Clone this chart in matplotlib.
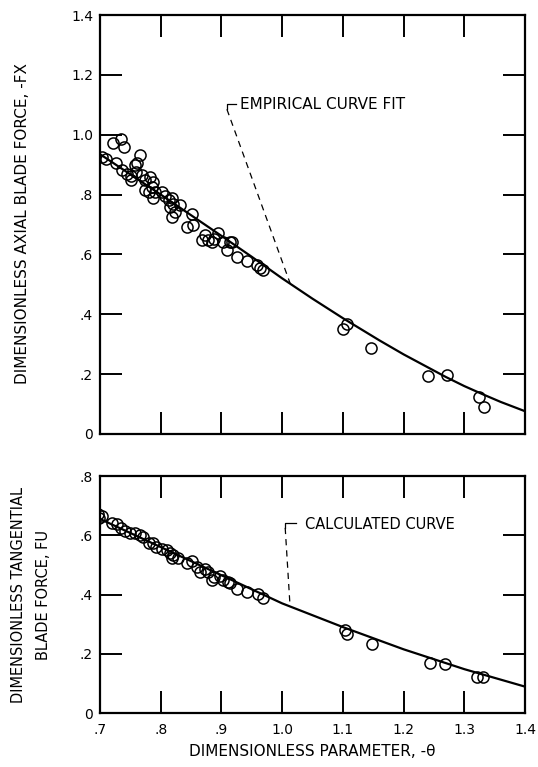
import numpy as np
import matplotlib.pyplot as plt

# Axial blade force (top panel)
fx_theta = [0.704, 0.710, 0.721, 0.735, 0.740, 0.727, 0.736, 0.744, 0.751, 0.751,
            0.758, 0.761, 0.766, 0.760, 0.769, 0.774, 0.782, 0.774, 0.785, 0.788,
            0.780, 0.791, 0.788, 0.802, 0.807, 0.813, 0.818, 0.821, 0.815, 0.832,
            0.818, 0.824, 0.851, 0.843, 0.853, 0.873, 0.868, 0.878, 0.887, 0.895,
            0.903, 0.914, 0.885, 0.909, 0.917, 0.925, 0.942, 0.958, 0.964, 0.968,
            1.101, 1.106, 1.146, 1.241, 1.271, 1.324, 1.333]
fx_vals = [0.926, 0.920, 0.974, 0.987, 0.959, 0.906, 0.881, 0.870, 0.862, 0.848,
           0.898, 0.904, 0.931, 0.876, 0.865, 0.848, 0.859, 0.815, 0.826, 0.842,
           0.809, 0.809, 0.787, 0.809, 0.795, 0.781, 0.787, 0.770, 0.759, 0.765,
           0.726, 0.742, 0.735, 0.692, 0.700, 0.664, 0.648, 0.648, 0.653, 0.670,
           0.642, 0.642, 0.640, 0.614, 0.642, 0.590, 0.579, 0.564, 0.556, 0.548,
           0.351, 0.367, 0.288, 0.194, 0.197, 0.125, 0.089]
fx_curve_x = [0.70, 0.80, 0.90, 0.95, 1.00, 1.05, 1.10, 1.16, 1.20, 1.27, 1.30, 1.33, 1.36, 1.40]
fx_curve_y = [0.935, 0.800, 0.662, 0.592, 0.520, 0.452, 0.387, 0.313, 0.266, 0.190,
              0.160, 0.133, 0.107, 0.076]

# Tangential blade force (bottom panel)
fu_theta = [0.696, 0.699, 0.703, 0.719, 0.728, 0.735, 0.741, 0.749, 0.758, 0.766,
            0.770, 0.780, 0.788, 0.793, 0.802, 0.810, 0.815, 0.821, 0.818, 0.829,
            0.843, 0.851, 0.859, 0.865, 0.873, 0.878, 0.887, 0.884, 0.897, 0.903,
            0.911, 0.914, 0.925, 0.942, 0.961, 0.968,
            1.104, 1.106, 1.148, 1.243, 1.268, 1.321, 1.330]
fu_vals = [0.672, 0.657, 0.665, 0.642, 0.638, 0.623, 0.615, 0.609, 0.609, 0.601,
           0.593, 0.573, 0.573, 0.561, 0.553, 0.550, 0.539, 0.533, 0.522, 0.522,
           0.505, 0.514, 0.494, 0.477, 0.485, 0.477, 0.460, 0.449, 0.462, 0.449,
           0.443, 0.438, 0.418, 0.410, 0.401, 0.389,
           0.280, 0.267, 0.233, 0.170, 0.164, 0.123, 0.120]
fu_curve_x = [0.70, 0.80, 0.90, 1.00, 1.10, 1.20, 1.30, 1.40]
fu_curve_y = [0.655, 0.560, 0.465, 0.370, 0.290, 0.215, 0.148, 0.089]

x_ticks = [0.7, 0.8, 0.9, 1.0, 1.1, 1.2, 1.3, 1.4]
x_labels = ['.7', '.8', '.9', '1.0', '1.1', '1.2', '1.3', '1.4']
fx_ticks = [0, 0.2, 0.4, 0.6, 0.8, 1.0, 1.2, 1.4]
fx_labels = ['0', '.2', '.4', '.6', '.8', '1.0', '1.2', '1.4']
fu_ticks = [0, 0.2, 0.4, 0.6, 0.8]
fu_labels = ['0', '.2', '.4', '.6', '.8']

plt.rcParams['font.family'] = 'DejaVu Sans'

fig = plt.figure(figsize=(5.38, 7.67), dpi=100)
ax1 = fig.add_axes([0.1859, 0.4342, 0.790, 0.5462])
ax2 = fig.add_axes([0.1859, 0.0704, 0.790, 0.3090])

def style(ax):
    for s in ax.spines.values():
        s.set_linewidth(1.6)
    ax.tick_params(direction='in', length=16, width=1.4, top=True, right=True,
                   labelsize=10)
    ax.tick_params(axis='x', pad=7)
    ax.tick_params(axis='y', pad=5)
    ax.set_xlim(0.7, 1.4)
    ax.set_xticks(x_ticks)

mk = dict(marker='o', ms=8, mfc='none', mec='black', mew=1.1, ls='none')

# top panel
ax1.plot(fx_curve_x, fx_curve_y, color='black', lw=1.6)
ax1.plot(fx_theta, fx_vals, **mk)
style(ax1)
ax1.set_ylim(0, 1.4)
ax1.set_yticks(fx_ticks)
ax1.set_yticklabels(fx_labels)
ax1.set_xticklabels([])
ax1.plot([0.924, 0.909, 0.909], [1.102, 1.102, 1.085], color='black', lw=0.9)
ax1.plot([0.909, 1.013], [1.085, 0.504], color='black', lw=0.9, ls=(0, (5, 4)))
ax1.text(0.931, 1.10, 'EMPIRICAL CURVE FIT', fontsize=11, va='center', ha='left')

# bottom panel
ax2.plot(fu_curve_x, fu_curve_y, color='black', lw=1.6)
ax2.plot(fu_theta, fu_vals, **mk)
style(ax2)
ax2.set_ylim(0, 0.8)
ax2.set_yticks(fu_ticks)
ax2.set_yticklabels(fu_labels)
ax2.set_xticklabels(x_labels)
ax2.plot([1.023, 1.005, 1.005], [0.641, 0.641, 0.625], color='black', lw=0.9)
ax2.plot([1.005, 1.013], [0.625, 0.36], color='black', lw=0.9, ls=(0, (5, 4)))
ax2.text(1.038, 0.635, 'CALCULATED CURVE', fontsize=10.5, va='center', ha='left')
ax2.set_xlabel('DIMENSIONLESS PARAMETER, -θ', fontsize=11, labelpad=5)

fig.text(23 / 538, 1 - 224 / 767, 'DIMENSIONLESS AXIAL BLADE FORCE, -FX',
         rotation=90, fontsize=11, ha='center', va='center')
fig.text(19 / 538, 1 - 595 / 767, 'DIMENSIONLESS TANGENTIAL',
         rotation=90, fontsize=10.5, ha='center', va='center')
fig.text(43 / 538, 1 - 595 / 767, 'BLADE FORCE, FU',
         rotation=90, fontsize=10.5, ha='center', va='center')

plt.savefig('out.png', dpi=100)
